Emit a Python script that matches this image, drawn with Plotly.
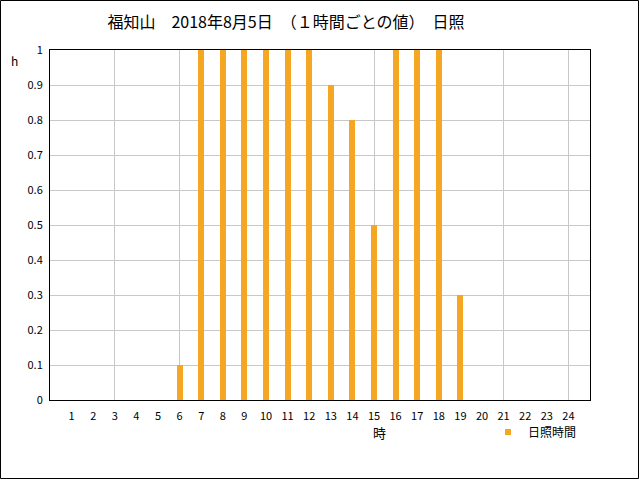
import plotly.graph_objects as go

hours = list(range(1, 25))
sunshine = [0, 0, 0, 0, 0, 0.1, 1, 1, 1, 1, 1, 1, 0.9, 0.8, 0.5, 1, 1, 1, 0.3, 0, 0, 0, 0, 0]
title_text = "福知山　2018年8月5日　（１時間ごとの値）　日照"
series_name = "日照時間"
y_ticks = [0, 0.1, 0.2, 0.3, 0.4, 0.5, 0.6, 0.7, 0.8, 0.9, 1]
y_ticklabels = ["0", "0.1", "0.2", "0.3", "0.4", "0.5", "0.6", "0.7", "0.8", "0.9", "1"]

BAR = "#F5A623"
FONT = "Noto Sans CJK JP"

fig = go.Figure()
fig.add_trace(go.Bar(x=hours, y=sunshine, width=0.28, marker=dict(color=BAR, line=dict(width=0)),
                     name=series_name, showlegend=False))
fig.add_trace(go.Scatter(x=[None], y=[None], mode="markers", name=series_name,
                         marker=dict(symbol="square", size=6, color=BAR), showlegend=True))
# overlay axis for gridlines every 3 hours
fig.add_trace(go.Scatter(x=[None], y=[None], xaxis="x2", showlegend=False, hoverinfo="skip"))

L, R, T, B = 50, 50, 50, 80
W, H = 640, 480
pw, ph = W - L - R, H - T - B

fig.update_layout(
    width=W, height=H,
    margin=dict(l=L, r=R, t=T, b=B, pad=0),
    paper_bgcolor="white", plot_bgcolor="white",
    font=dict(family=FONT, size=11, color="black"),
    title=dict(text=title_text, x=286 / W, xanchor="center", y=1 - 22 / H, yanchor="middle",
               font=dict(family=FONT, size=16, color="black")),
    xaxis=dict(range=[0, 25], tickvals=hours, ticktext=[str(h) for h in hours], showgrid=False,
               showline=True, linecolor="black", linewidth=1, mirror=True, ticks="",
               ticklen=0, zeroline=False, tickfont=dict(size=11), ticklabelstandoff=6),
    xaxis2=dict(range=[0, 25], overlaying="x", tick0=0, dtick=3, showgrid=True, gridcolor="#c8c8c8",
                gridwidth=1, showticklabels=False, ticks="", zeroline=False, showline=False),
    yaxis=dict(range=[0, 1], tickvals=y_ticks, ticktext=y_ticklabels, showgrid=True, gridcolor="#c8c8c8",
               gridwidth=1, showline=True, linecolor="black", linewidth=1, mirror=True, ticks="",
               zeroline=False, tickfont=dict(size=11), ticklabelstandoff=4),
    bargap=0,
    legend=dict(x=(488 - L) / pw, y=-(432 - H + B) / ph, xanchor="left", yanchor="middle",
                bgcolor="rgba(0,0,0,0)", font=dict(size=12), itemwidth=30, tracegroupgap=0),
    showlegend=True,
)
fig.add_annotation(text="h", xref="paper", yref="paper", x=-41 / pw, y=1 - 10 / ph,
                   showarrow=False, xanchor="left", yanchor="middle", font=dict(size=12))
fig.add_annotation(text="時", xref="paper", yref="paper", x=(379 - L) / pw, y=-(432 - (H - B)) / ph,
                   showarrow=False, xanchor="center", yanchor="middle", font=dict(size=13))
fig.add_shape(type="rect", xref="paper", yref="paper", x0=-(L - 0.5) / pw, x1=1 + (R - 1.5) / pw,
              y0=-(B - 1.5) / ph, y1=1 + (T - 0.5) / ph, line=dict(color="black", width=1), layer="above")

fig.write_html("out.html")
